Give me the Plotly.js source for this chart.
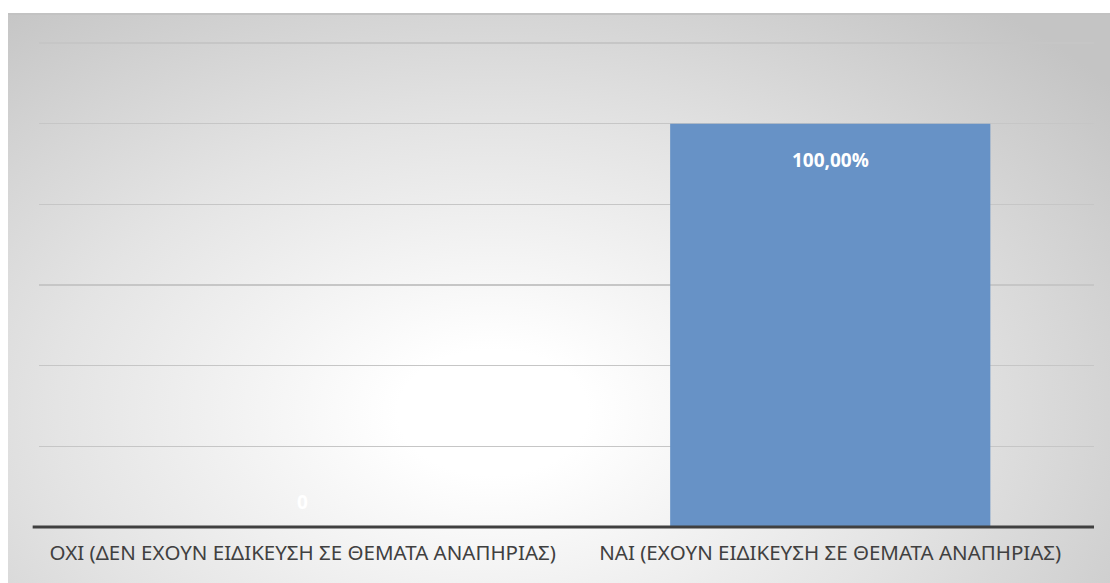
<!DOCTYPE html>
<html>
<head>
<meta charset="utf-8">
<script src="https://cdn.plot.ly/plotly-3.0.1.min.js"></script>
<style>
html,body{margin:0;padding:0;background:#ffffff;width:1110px;height:583px;overflow:hidden;}
#frame{position:absolute;left:8px;top:13px;width:1102px;height:570px;
  border-top:2px solid #c2c2c2;box-sizing:border-box;
  background:radial-gradient(ellipse 72% 92% at 44% 70%, #ffffff 0%, #ffffff 12%, #e4e4e4 55%, #c4c4c4 100%);}
#chart{position:absolute;left:0;top:-2px;width:1102px;height:570px;}
</style>
</head>
<body>
<div id="frame"><div id="chart"></div></div>
<script>
var categories = ["ΟΧΙ (ΔΕΝ ΕΧΟΥΝ ΕΙΔΙΚΕΥΣΗ ΣΕ ΘΕΜΑΤΑ ΑΝΑΠΗΡΙΑΣ)", "ΝΑΙ (ΕΧΟΥΝ ΕΙΔΙΚΕΥΣΗ ΣΕ ΘΕΜΑΤΑ ΑΝΑΠΗΡΙΑΣ)"];
var values = [0, 1.0];
var valueLabels = ["0", "100,00%"];
var yTicks = [0.2, 0.4, 0.6, 0.8, 1.0, 1.2];

var trace = {
  type: "bar",
  x: categories,
  y: values,
  width: 0.607,
  marker: {color: "#6792c6", line: {width: 0}},
  hoverinfo: "skip"
};

var annotations = categories.map(function(c, i){
  return {
    x: c, y: values[i], xref: "x", yref: "y",
    text: "<b>" + valueLabels[i] + "</b>",
    showarrow: false,
    font: {family: "Open Sans, Noto Sans, sans-serif", size: 19, color: "#ffffff"},
    yanchor: "middle",
    yshift: values[i] > 0 ? -36 : 25
  };
});

var layout = {
  width: 1102, height: 570,
  paper_bgcolor: "rgba(0,0,0,0)",
  plot_bgcolor: "rgba(0,0,0,0)",
  margin: {l: 31, r: 16, t: 26, b: 56},
  showlegend: false,
  xaxis: {
    showline: false,
    ticks: "outside", ticklen: 7, tickcolor: "rgba(0,0,0,0)",
    tickfont: {family: "Noto Sans, sans-serif", size: 20.5, color: "#404040"},
    showgrid: false, fixedrange: true
  },
  yaxis: {
    range: [0, 1.21], tickvals: yTicks, showticklabels: false,
    showgrid: true, gridcolor: "#c6c6c6", gridwidth: 1.5,
    zeroline: false, showline: false, fixedrange: true
  },
  shapes: [{
    type: "line", xref: "paper", yref: "paper",
    x0: -0.006, x1: 1, y0: 0, y1: 0,
    line: {color: "#404040", width: 3}
  }],
  annotations: annotations
};

Plotly.newPlot("chart", [trace], layout, {displayModeBar: false, staticPlot: true});
</script>
</body>
</html>
